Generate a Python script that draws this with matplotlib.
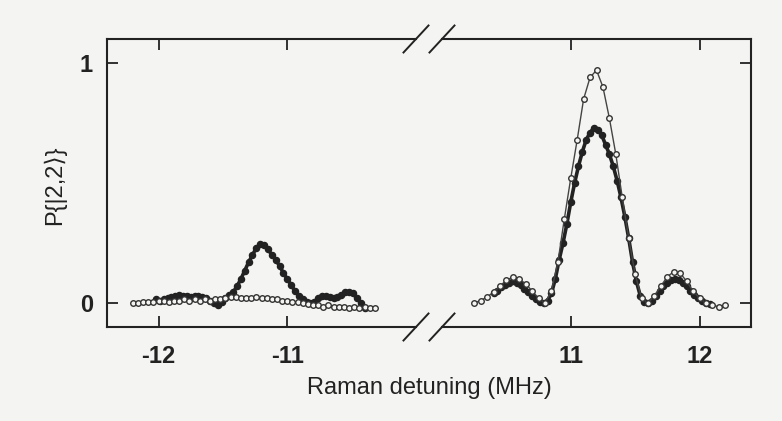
import matplotlib.pyplot as plt
import matplotlib.lines as mlines

plt.rcParams['font.family'] = ['Liberation Sans', 'DejaVu Sans']

# negative detuning branch, open circles
x_open_left = [-12.20, -12.16, -12.12, -12.08, -12.04, -12.00, -11.96, -11.92, -11.88, -11.84,
               -11.80, -11.76, -11.72, -11.68, -11.64, -11.60, -11.56, -11.52, -11.48, -11.44,
               -11.40, -11.36, -11.32, -11.28, -11.24, -11.20, -11.16, -11.12, -11.08, -11.04,
               -11.00, -10.96, -10.92, -10.88, -10.84, -10.80, -10.76, -10.72, -10.68, -10.64,
               -10.60, -10.56, -10.52, -10.48, -10.44, -10.40, -10.36, -10.32]
p_open_left = [0.00, 0.00, 0.005, 0.005, 0.005, 0.01, 0.01, 0.005, 0.01, 0.01,
               0.015, 0.01, 0.015, 0.01, 0.015, 0.01, 0.015, 0.015, 0.02, 0.025,
               0.025, 0.02, 0.02, 0.02, 0.025, 0.02, 0.02, 0.015, 0.015, 0.01,
               0.01, 0.005, 0.005, 0.00, -0.005, -0.01, -0.01, -0.015, -0.01, -0.015,
               -0.015, -0.015, -0.02, -0.015, -0.02, -0.015, -0.02, -0.02]

# negative detuning branch, filled circles
x_fill_left = [-12.02, -11.99, -11.96, -11.93, -11.90, -11.87, -11.84, -11.81, -11.78, -11.75,
               -11.72, -11.69, -11.66, -11.63, -11.60, -11.57, -11.54, -11.51, -11.48, -11.45,
               -11.42, -11.39, -11.36, -11.33, -11.30, -11.27, -11.24, -11.21, -11.18, -11.15,
               -11.12, -11.09, -11.06, -11.03, -11.00, -10.97, -10.94, -10.91, -10.88, -10.85,
               -10.82, -10.79, -10.76, -10.73, -10.70, -10.67, -10.64, -10.61, -10.58, -10.55,
               -10.52, -10.49, -10.46, -10.43, -10.40]
p_fill_left = [0.015, 0.01, 0.015, 0.02, 0.025, 0.03, 0.035, 0.03, 0.03, 0.025,
               0.03, 0.03, 0.025, 0.02, 0.01, 0.00, -0.01, 0.005, 0.02, 0.035,
               0.045, 0.07, 0.10, 0.135, 0.17, 0.20, 0.23, 0.245, 0.24, 0.225,
               0.20, 0.18, 0.155, 0.125, 0.10, 0.075, 0.05, 0.03, 0.015, 0.005,
               0.00, 0.005, 0.02, 0.03, 0.03, 0.025, 0.02, 0.025, 0.035, 0.045,
               0.045, 0.04, 0.02, 0.00, -0.02]

# positive detuning branch, open circles
x_open_right = [10.25, 10.30, 10.35, 10.40, 10.45, 10.50, 10.55, 10.60, 10.65, 10.70,
                10.75, 10.80, 10.85, 10.90, 10.95, 11.00, 11.05, 11.10, 11.15, 11.20,
                11.25, 11.30, 11.35, 11.40, 11.45, 11.50, 11.55, 11.60, 11.65, 11.70,
                11.75, 11.80, 11.85, 11.90, 11.95, 12.00, 12.05, 12.10, 12.15, 12.20]
p_open_right = [0.00, 0.01, 0.025, 0.045, 0.07, 0.095, 0.108, 0.10, 0.08, 0.05,
                0.02, 0.00, 0.05, 0.17, 0.35, 0.52, 0.68, 0.85, 0.94, 0.97,
                0.90, 0.77, 0.62, 0.44, 0.27, 0.12, 0.02, 0.00, 0.03, 0.07,
                0.11, 0.13, 0.125, 0.09, 0.05, 0.02, 0.00, -0.01, -0.015, -0.01]

# positive detuning branch, filled circles
x_fill_right = [10.40, 10.43, 10.46, 10.49, 10.52, 10.55, 10.58, 10.61, 10.64, 10.67,
                10.70, 10.73, 10.76, 10.79, 10.82, 10.85, 10.88, 10.91, 10.94, 10.97,
                11.00, 11.03, 11.06, 11.09, 11.12, 11.15, 11.18, 11.21, 11.24, 11.27,
                11.30, 11.33, 11.36, 11.39, 11.42, 11.45, 11.48, 11.51, 11.54, 11.57,
                11.60, 11.63, 11.66, 11.69, 11.72, 11.75, 11.78, 11.81, 11.84, 11.87,
                11.90, 11.93, 11.96, 11.99, 12.02, 12.05, 12.08]
p_fill_right = [0.04, 0.05, 0.065, 0.075, 0.085, 0.09, 0.085, 0.075, 0.06, 0.045,
                0.03, 0.015, 0.005, 0.00, 0.01, 0.04, 0.10, 0.18, 0.25, 0.33,
                0.42, 0.50, 0.57, 0.63, 0.68, 0.71, 0.73, 0.72, 0.70, 0.66,
                0.62, 0.57, 0.51, 0.44, 0.36, 0.27, 0.17, 0.09, 0.03, 0.005,
                0.00, 0.01, 0.03, 0.05, 0.07, 0.085, 0.095, 0.10, 0.095, 0.085,
                0.07, 0.05, 0.035, 0.02, 0.01, 0.00, -0.005]

left_ticks = [-12, -11]
right_ticks = [11, 12]
y_ticks = [0, 1]

bg = '#f4f4f2'
ink = '#222222'
W, H = 782, 421

fig = plt.figure(figsize=(W / 100, H / 100), dpi=100, facecolor=bg)
ax1 = fig.add_axes([107 / W, 94 / H, 309 / W, 288 / H])
ax2 = fig.add_axes([442 / W, 94 / H, 309 / W, 288 / H], sharey=ax1)

for ax, xf, pf, xo, po in [(ax1, x_fill_left, p_fill_left, x_open_left, p_open_left),
                           (ax2, x_fill_right, p_fill_right, x_open_right, p_open_right)]:
    ax.set_facecolor('none')
    ax.plot(xf, pf, '-o', color=ink, lw=2.6, ms=4.4, mfc=ink, mec=ink, zorder=2)
    ax.plot(xo, po, '-o', color='#444444', lw=1.0, ms=4.0, mfc=bg, mec='#333333', mew=1.0, zorder=3)
    for s in ax.spines.values():
        s.set_color(ink)
        s.set_linewidth(1.5)
    ax.tick_params(direction='in', length=8, width=1.3, colors=ink, labelsize=17,
                   top=True, pad=13)

ax1.set_xlim(-12.4, -10.0)
ax2.set_xlim(10.0, 12.4)
ax1.set_ylim(-0.1, 1.1)
ax1.set_xticks(left_ticks)
ax1.set_xticklabels([str(t) for t in left_ticks], fontweight='bold')
ax2.set_xticks(right_ticks)
ax2.set_xticklabels([str(t) for t in right_ticks], fontweight='bold')
ax1.set_yticks(y_ticks)
ax1.set_yticklabels([str(t) for t in y_ticks], fontweight='bold')
ax1.tick_params(axis='y', pad=10)

ax1.spines['right'].set_visible(False)
ax2.spines['left'].set_visible(False)
ax2.tick_params(axis='y', left=False, labelleft=False, right=True)

# break marks where the axis is cut
dx, dy = 12.5 / W, 13.5 / H
for xc in [416 / W, 442 / W]:
    for yc in [94 / H, 382 / H]:
        fig.add_artist(mlines.Line2D([xc - dx, xc + dx], [yc - dy, yc + dy],
                                     transform=fig.transFigure, color=ink, lw=1.4))

fig.text(429 / W, 1 - 388 / H, 'Raman detuning (MHz)', ha='center', va='center',
         fontsize=17, color=ink)
fig.text(55 / W, 1 - 185 / H, 'P{|2,2\u27e9}', ha='center', va='center', rotation=90,
         fontsize=17, color=ink)

fig.savefig('out.png', dpi=100, facecolor=bg)
